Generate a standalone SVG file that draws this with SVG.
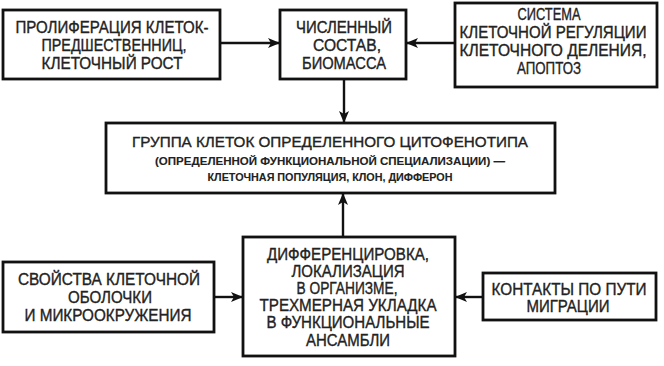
<svg xmlns="http://www.w3.org/2000/svg" width="664" height="366" viewBox="0 0 664 366">
<style>
.box{fill:#fff;stroke:#111;stroke-width:2.8}
.t{font-family:"Liberation Sans",Arial,sans-serif;font-size:16px;fill:#222;stroke:#222;stroke-width:0.35;text-anchor:middle}
.s{font-size:10.5px;font-weight:bold;stroke-width:0.1}
.m{font-size:15px}
.c{stroke:#111;stroke-width:2.4;fill:none}
</style>
<defs>
<marker id="ah" viewBox="0 0 12 10" refX="11" refY="5" markerWidth="12" markerHeight="10" markerUnits="userSpaceOnUse" orient="auto">
<path d="M0,0 L12,5 L0,10 L3,5 Z" fill="#111"/>
</marker>
</defs>
<rect width="664" height="366" fill="#fff"/>
<g id="connectors">
<line class="c" x1="220" y1="43" x2="279" y2="43" marker-end="url(#ah)"/>
<line class="c" x1="455" y1="43" x2="407" y2="43" marker-end="url(#ah)"/>
<line class="c" x1="344" y1="79" x2="344" y2="122" marker-end="url(#ah)"/>
<line class="c" x1="343" y1="237" x2="343" y2="194" marker-end="url(#ah)"/>
<line class="c" x1="214" y1="297" x2="242" y2="297" marker-end="url(#ah)"/>
<line class="c" x1="483" y1="297" x2="456" y2="297" marker-end="url(#ah)"/>
</g>
<g id="n1">
<rect class="box" x="3" y="10" width="217" height="69"/>
<text class="t" x="112" y="33" textLength="193" lengthAdjust="spacingAndGlyphs">ПРОЛИФЕРАЦИЯ КЛЕТОК-</text>
<text class="t" x="114" y="51" textLength="145" lengthAdjust="spacingAndGlyphs">ПРЕДШЕСТВЕННИЦ,</text>
<text class="t" x="112" y="69" textLength="141" lengthAdjust="spacingAndGlyphs">КЛЕТОЧНЫЙ РОСТ</text>
</g>
<g id="n2">
<rect class="box" x="280" y="10" width="126" height="69"/>
<text class="t" x="344" y="33" textLength="96" lengthAdjust="spacingAndGlyphs">ЧИСЛЕННЫЙ</text>
<text class="t" x="347" y="51" textLength="68" lengthAdjust="spacingAndGlyphs">СОСТАВ,</text>
<text class="t" x="344" y="69" textLength="84" lengthAdjust="spacingAndGlyphs">БИОМАССА</text>
</g>
<g id="n3">
<rect class="box" x="455" y="3" width="202" height="84"/>
<text class="t" x="549" y="20" textLength="63" lengthAdjust="spacingAndGlyphs">СИСТЕМА</text>
<text class="t" x="553" y="38" textLength="187" lengthAdjust="spacingAndGlyphs">КЛЕТОЧНОЙ РЕГУЛЯЦИИ</text>
<text class="t" x="553" y="56" textLength="187" lengthAdjust="spacingAndGlyphs">КЛЕТОЧНОГО ДЕЛЕНИЯ,</text>
<text class="t" x="549" y="74" textLength="64" lengthAdjust="spacingAndGlyphs">АПОПТОЗ</text>
</g>
<g id="n4">
<rect class="box" x="106" y="123" width="449" height="70"/>
<text class="t m" x="330" y="147" textLength="396" lengthAdjust="spacingAndGlyphs">ГРУППА КЛЕТОК ОПРЕДЕЛЕННОГО ЦИТОФЕНОТИПА</text>
<text class="t s" x="330" y="165" textLength="350" lengthAdjust="spacingAndGlyphs">(ОПРЕДЕЛЕННОЙ ФУНКЦИОНАЛЬНОЙ СПЕЦИАЛИЗАЦИИ) —</text>
<text class="t s" x="330" y="181" textLength="245" lengthAdjust="spacingAndGlyphs">КЛЕТОЧНАЯ ПОПУЛЯЦИЯ, КЛОН, ДИФФЕРОН</text>
</g>
<g id="n5">
<rect class="box" x="243" y="237" width="212" height="119"/>
<text class="t" x="348" y="260" textLength="162" lengthAdjust="spacingAndGlyphs">ДИФФЕРЕНЦИРОВКА,</text>
<text class="t" x="348" y="277" textLength="113" lengthAdjust="spacingAndGlyphs">ЛОКАЛИЗАЦИЯ</text>
<text class="t" x="347" y="294" textLength="101" lengthAdjust="spacingAndGlyphs">В ОРГАНИЗМЕ,</text>
<text class="t" x="348" y="311" textLength="177" lengthAdjust="spacingAndGlyphs">ТРЕХМЕРНАЯ УКЛАДКА</text>
<text class="t" x="348" y="328" textLength="163" lengthAdjust="spacingAndGlyphs">В ФУНКЦИОНАЛЬНЫЕ</text>
<text class="t" x="348" y="346" textLength="84" lengthAdjust="spacingAndGlyphs">АНСАМБЛИ</text>
</g>
<g id="n6">
<rect class="box" x="3" y="262" width="211" height="70"/>
<text class="t" x="109" y="285" textLength="182" lengthAdjust="spacingAndGlyphs">СВОЙСТВА КЛЕТОЧНОЙ</text>
<text class="t" x="110" y="303" textLength="84" lengthAdjust="spacingAndGlyphs">ОБОЛОЧКИ</text>
<text class="t" x="108" y="321" textLength="167" lengthAdjust="spacingAndGlyphs">И МИКРООКРУЖЕНИЯ</text>
</g>
<g id="n7">
<rect class="box" x="483" y="273" width="173" height="47"/>
<text class="t" x="569" y="295" textLength="155" lengthAdjust="spacingAndGlyphs">КОНТАКТЫ ПО ПУТИ</text>
<text class="t" x="568" y="312" textLength="83" lengthAdjust="spacingAndGlyphs">МИГРАЦИИ</text>
</g>
</svg>
